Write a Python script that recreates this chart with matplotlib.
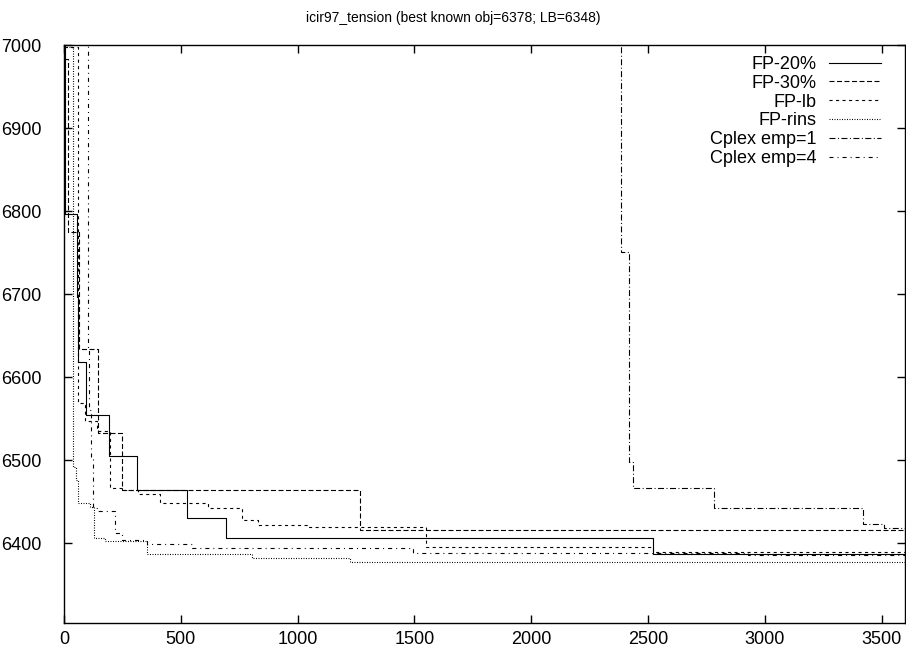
#!/usr/bin/env python

import matplotlib
matplotlib.use('Agg')
import matplotlib.pyplot as plt

plt.rcParams['font.family']       = ['Liberation Sans', 'DejaVu Sans']
plt.rcParams['lines.scale_dashes'] = False

# Data (time in seconds, objective value)
# each y value holds from its x up to the next x (step after)
fp20_x  = [0, 3, 56, 62, 94, 193, 313, 527, 694, 2520, 3600]
fp20_y  = [7400, 6797, 6696, 6618, 6555, 6505, 6464, 6431, 6406, 6387, 6387]

fp30_x  = [2, 17, 64, 146, 249, 1269, 3600]
fp30_y  = [6983, 6775, 6634, 6533, 6464, 6416, 6416]

fplb_x  = [2, 60, 90, 141, 197, 249, 317, 411, 617, 763, 831, 1041, 1551, 2520, 3600]
fplb_y  = [6997, 6569, 6547, 6535, 6467, 6464, 6459, 6448, 6442, 6428, 6422, 6419, 6396, 6389, 6389]

rins_x  = [2, 39, 51, 60, 110, 129, 176, 356, 806, 1226, 3600]
rins_y  = [6997, 6492, 6476, 6449, 6444, 6406, 6403, 6387, 6382, 6378, 6378]

emp1_x  = [2300, 2383, 2417, 2434, 2782, 3420, 3510, 3600]
emp1_y  = [7400, 6751, 6498, 6466, 6442, 6423, 6418, 6418]

emp4_x  = [0, 103, 108, 116, 122, 141, 219, 249, 356, 549, 1496, 2930, 3600]
emp4_y  = [7400, 6634, 6560, 6501, 6443, 6439, 6412, 6404, 6399, 6394, 6388, 6386, 6386]

labels  = ['FP-20%', 'FP-30%', 'FP-lb', 'FP-rins', 'Cplex emp=1', 'Cplex emp=4']
styles  = ['-', (0, (3.6, 1.8)), (0, (2.2, 2.5)), (0, (0.7, 1.1)),
           (0, (4.3, 1.8, 0.7, 1.8)), (0, (2.9, 2.9, 0.7, 2.9))]
series  = [(fp20_x, fp20_y), (fp30_x, fp30_y), (fplb_x, fplb_y),
           (rins_x, rins_y), (emp1_x, emp1_y), (emp4_x, emp4_y)]

fig = plt.figure(figsize=(9.06, 6.53), dpi=100)
ax  = fig.add_axes([64/906., 1-623/653., 841/906., 578/653.])

for (xs, ys), ls, lab in zip(series, styles, labels):
    ax.plot(xs, ys, drawstyle='steps-post', color='black', lw=0.8,
            linestyle=ls, label=lab)

ax.set_xlim(0, 3600)
ax.set_ylim(6304, 7000)
ax.set_xticks(range(0, 3501, 500))
ax.set_yticks(range(6400, 7001, 100))

ax.tick_params(direction='in', length=6, width=1.0, top=True, right=True,
               labelsize=13)
ax.tick_params(axis='y', pad=16)
ax.tick_params(axis='x', pad=6)
for s in ax.spines.values():
    s.set_linewidth(1.0)

fig.text(0.5, 1-18/653., 'icir97_tension (best known obj=6378; LB=6348)',
         ha='center', va='center', fontsize=10)

ax.legend(loc='upper right', bbox_to_anchor=(0.987, 1.003), frameon=False,
          markerfirst=False, fontsize=13, handlelength=2.9,
          handletextpad=0.7, labelspacing=0.1, borderpad=0.2)

plt.savefig('out.png', dpi=100)
plt.close()
